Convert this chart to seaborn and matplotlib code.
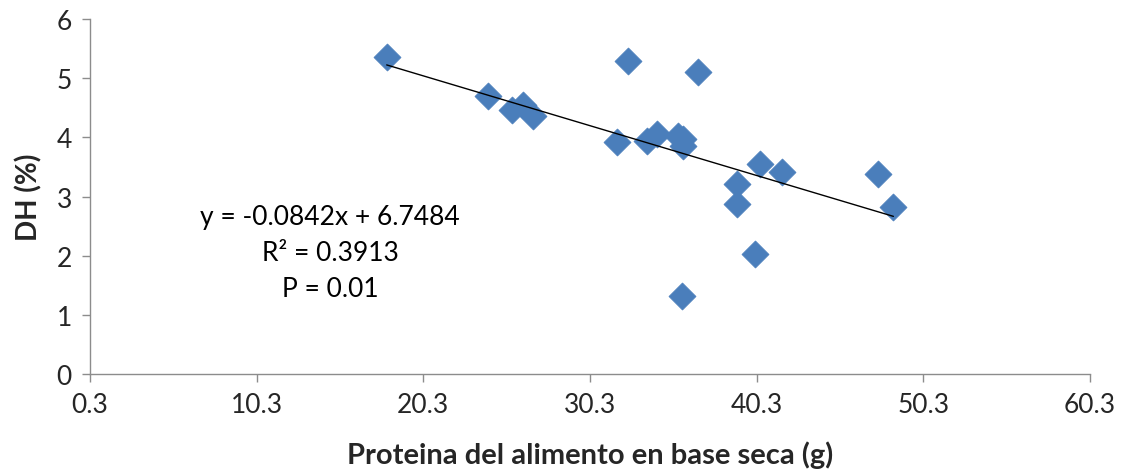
import numpy as np
import pandas as pd
import matplotlib
matplotlib.use("Agg")
import matplotlib.pyplot as plt
import seaborn as sns

# Protein content of the feed (dry basis, g) and degree of hydrolysis (%)
protein = [18.1, 24.2, 25.6, 26.3, 26.9, 31.9, 32.6, 33.7, 34.3, 35.6,
           35.9, 35.9, 36.8, 39.1, 39.1, 40.2, 40.5, 41.8, 35.8, 47.6, 48.5]
dh = [5.36, 4.70, 4.46, 4.55, 4.36, 3.92, 5.29, 3.94, 4.06, 4.02,
      3.97, 3.86, 5.10, 3.21, 2.87, 2.03, 3.55, 3.41, 1.32, 3.38, 2.82]

# Linear fit reported on the chart
slope = -0.0842
intercept = 6.7484
r2 = 0.3913
p_value = 0.01

x_ticks = [0.3, 10.3, 20.3, 30.3, 40.3, 50.3, 60.3]
y_ticks = [0, 1, 2, 3, 4, 5, 6]

sns.set_theme(style="white")
plt.rcParams["font.family"] = ["Lato", "DejaVu Sans"]

df = pd.DataFrame({"protein": protein, "dh": dh})

fig = plt.figure(figsize=(11.21, 4.77), dpi=100)
ax = fig.add_axes([0.0803, 0.2138, 0.8921, 0.7442])

sns.scatterplot(data=df, x="protein", y="dh", marker="D", s=190,
                color="#4A7EBB", edgecolor="#4A7EBB", linewidth=0.5,
                ax=ax, zorder=2)

xfit = np.array([min(protein), max(protein)])
fit = pd.DataFrame({"x": xfit, "y": slope * xfit + intercept})
sns.lineplot(data=fit, x="x", y="y", color="black", linewidth=1.0,
             ax=ax, zorder=3)

ax.set_xlim(x_ticks[0], x_ticks[-1])
ax.set_ylim(y_ticks[0], y_ticks[-1])
ax.set_xticks(x_ticks)
ax.set_xticklabels([f"{t:.1f}" for t in x_ticks])
ax.set_yticks(y_ticks)
ax.tick_params(axis="both", which="major", direction="out", length=6,
               width=1, color="#8c8c8c", labelsize=19, pad=7,
               bottom=True, left=True)

for side in ("top", "right"):
    ax.spines[side].set_visible(False)
for side in ("left", "bottom"):
    ax.spines[side].set_color("#8c8c8c")
    ax.spines[side].set_linewidth(1.0)

ax.set_xlabel("Proteina del alimento en base seca (g)", fontsize=21,
              fontweight="bold", labelpad=17)
ax.set_ylabel("DH (%)", fontsize=20, fontweight="bold", labelpad=10)

eq_text = f"y = {slope:.4f}x + {intercept:.4f}\nR² = {r2:.4f}\nP = {p_value:.2f}"
ax.text(14.7, 2.05, eq_text, ha="center", va="center", fontsize=19,
        linespacing=1.55, color="black")

fig.savefig("out.png", dpi=100)
